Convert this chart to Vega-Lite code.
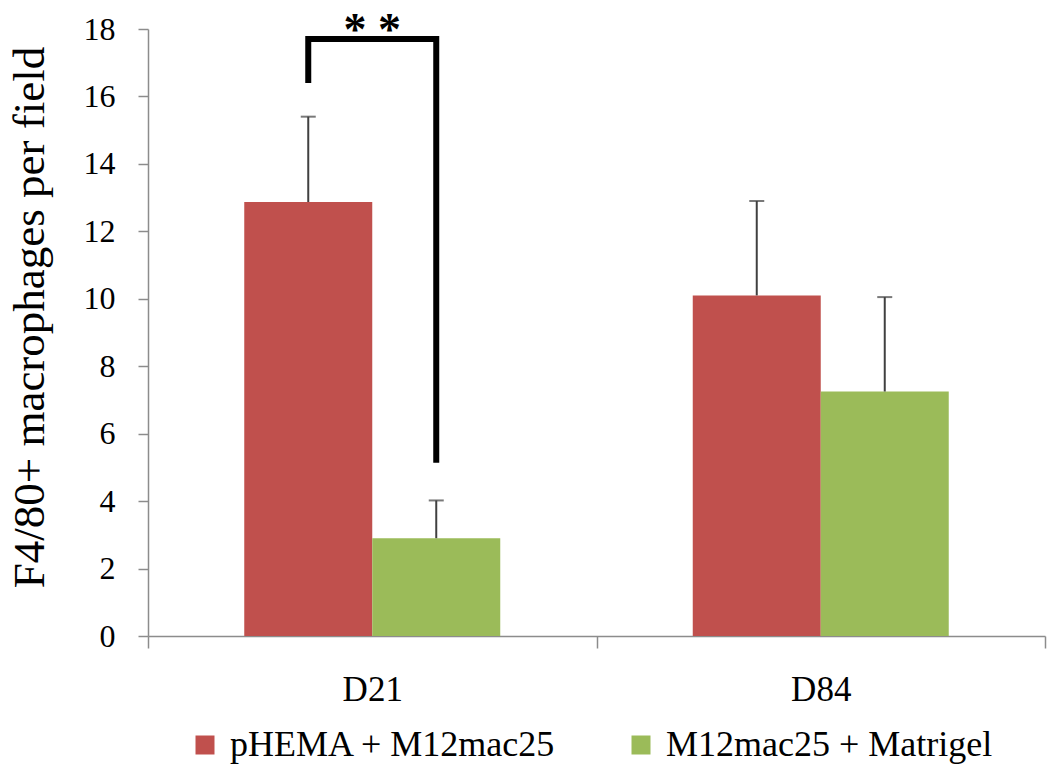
{
  "$schema": "https://vega.github.io/schema/vega-lite/v6.json",
  "width": 897,
  "height": 607,
  "autosize": {"type": "none"},
  "padding": {"left": 148, "top": 29, "right": 5, "bottom": 132},
  "background": "white",
  "config": {
    "view": {"stroke": null},
    "font": "Liberation Serif",
    "axis": {"grid": false, "domainColor": "#8c8c8c", "tickColor": "#8c8c8c", "labelColor": "#000000", "titleColor": "#000000", "labelFont": "Liberation Serif", "titleFont": "Liberation Serif", "domainWidth": 1.5, "tickWidth": 1.5}
  },
  "datasets": {
    "bars": [
      {"day": "D21", "group": "pHEMA + M12mac25", "value": 12.87, "err": 15.4},
      {"day": "D21", "group": "M12mac25 + Matrigel", "value": 2.9, "err": 4.02},
      {"day": "D84", "group": "pHEMA + M12mac25", "value": 10.1, "err": 12.9},
      {"day": "D84", "group": "M12mac25 + Matrigel", "value": 7.25, "err": 10.05}
    ],
    "bracket": [
      {"day": "D21", "group": "pHEMA + M12mac25", "y": 16.4, "order": 1},
      {"day": "D21", "group": "pHEMA + M12mac25", "y": 17.7, "order": 2},
      {"day": "D21", "group": "M12mac25 + Matrigel", "y": 17.7, "order": 3},
      {"day": "D21", "group": "M12mac25 + Matrigel", "y": 5.14, "order": 4}
    ],
    "stars": [
      {"day": "D21", "y": 17.68, "label": "* *"}
    ]
  },
  "encoding": {
    "x": {
      "field": "day", "type": "nominal",
      "scale": {"domain": ["D21", "D84"], "paddingInner": 0, "paddingOuter": 0},
      "axis": {"title": null, "labelAngle": 0, "labelFontSize": 35, "tickSize": 12, "tickBand": "extent", "labelPadding": 24}
    }
  },
  "layer": [
    {
      "data": {"name": "bars"},
      "mark": {"type": "bar"},
      "encoding": {
        "xOffset": {"field": "group", "type": "nominal", "scale": {"domain": ["pHEMA + M12mac25", "M12mac25 + Matrigel"], "paddingInner": 0, "paddingOuter": 0.752}},
        "y": {
          "field": "value", "type": "quantitative",
          "scale": {"domain": [0, 18], "nice": false},
          "axis": {"values": [0, 2, 4, 6, 8, 10, 12, 14, 16, 18], "title": "F4/80+ macrophages per field", "titleFontSize": 45, "titleFontWeight": "normal", "labelFontSize": 32, "tickSize": 10, "labelPadding": 23, "titleAngle": -90, "titleX": -105, "titleY": 288, "titleBaseline": "alphabetic", "titleAlign": "center"}
        },
        "color": {
          "field": "group", "type": "nominal",
          "scale": {"domain": ["pHEMA + M12mac25", "M12mac25 + Matrigel"], "range": ["#C0504D", "#9BBB59"]},
          "legend": {"title": null, "orient": "none", "direction": "horizontal", "legendX": 39, "legendY": 698, "symbolType": "square", "symbolSize": 361, "symbolStrokeWidth": 0, "labelFontSize": 36, "labelFont": "Liberation Serif", "labelColor": "#000000", "labelOffset": 7, "columnPadding": 66, "padding": 0, "labelLimit": 500}
        }
      }
    },
    {
      "data": {"name": "bars"},
      "mark": {"type": "rule", "color": "#404040", "strokeWidth": 2},
      "encoding": {
        "xOffset": {"field": "group", "type": "nominal", "scale": {"domain": ["pHEMA + M12mac25", "M12mac25 + Matrigel"], "paddingInner": 0, "paddingOuter": 0.752}},
        "y": {"field": "value", "type": "quantitative"},
        "y2": {"field": "err"}
      }
    },
    {
      "data": {"name": "bars"},
      "mark": {"type": "tick", "color": "#404040", "thickness": 2, "size": 15, "orient": "horizontal"},
      "encoding": {
        "xOffset": {"field": "group", "type": "nominal", "scale": {"domain": ["pHEMA + M12mac25", "M12mac25 + Matrigel"], "paddingInner": 0, "paddingOuter": 0.752}},
        "y": {"field": "err", "type": "quantitative"}
      }
    },
    {
      "data": {"name": "bracket"},
      "mark": {"type": "line", "color": "#000000", "strokeWidth": 6, "strokeJoin": "miter", "strokeCap": "butt"},
      "encoding": {
        "xOffset": {"field": "group", "type": "nominal", "scale": {"domain": ["pHEMA + M12mac25", "M12mac25 + Matrigel"], "paddingInner": 0, "paddingOuter": 0.752}},
        "y": {"field": "y", "type": "quantitative"},
        "order": {"field": "order", "type": "quantitative"}
      }
    },
    {
      "data": {"name": "stars"},
      "mark": {"type": "text", "fontSize": 46, "fontWeight": "bold", "font": "Liberation Serif", "baseline": "alphabetic", "align": "center", "color": "#000000", "dy": 5},
      "encoding": {
        "y": {"field": "y", "type": "quantitative"},
        "text": {"field": "label"}
      }
    }
  ]
}
